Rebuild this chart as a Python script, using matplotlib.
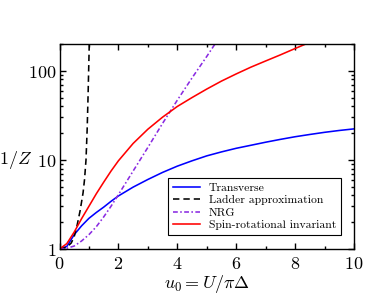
import matplotlib
matplotlib.use("Agg")
import matplotlib.pyplot as plt
from matplotlib.ticker import FixedLocator, FixedFormatter, MultipleLocator, LogLocator, NullFormatter

plt.rcParams['mathtext.fontset'] = 'cm'
plt.rcParams['font.family'] = ['DejaVu Serif']

# Transverse
u_tr = [0, 0.25, 0.5, 0.75, 1.0, 1.25, 1.5, 1.75, 2.0, 2.5, 3.0, 3.5, 4.0, 4.5, 5.0,
        5.5, 6.0, 6.5, 7.0, 7.5, 8.0, 8.5, 9.0, 9.5, 10.0]
z_tr = [1, 1.07, 1.45, 1.82, 2.21, 2.57, 2.95, 3.43, 3.94, 4.95, 6.03, 7.24, 8.51, 9.77, 11.1,
        12.3, 13.5, 14.6, 15.8, 17.0, 18.2, 19.3, 20.4, 21.4, 22.3]

# Ladder approximation
u_la = [0, 0.25, 0.4, 0.5, 0.6, 0.7, 0.8, 0.85, 0.9, 0.94, 0.97, 1.0, 1.02]
z_la = [1, 1.05, 1.17, 1.38, 1.86, 2.69, 4.27, 6.03, 10, 22.4, 52.5, 141, 282]

# NRG
u_nrg = [0, 0.25, 0.5, 0.75, 1.0, 1.25, 1.5, 1.75, 2.0, 2.5, 3.0, 3.5, 4.0, 4.5, 5.0, 5.5]
z_nrg = [1, 1.02, 1.08, 1.23, 1.45, 1.78, 2.29, 3.02, 4.07, 7.5, 13.8, 25.7, 46.8, 83.2, 145, 257]

# Spin-rotational invariant
u_sr = [0, 0.25, 0.5, 0.75, 1.0, 1.25, 1.5, 1.75, 2.0, 2.5, 3.0, 3.5, 4.0, 4.5, 5.0,
        5.5, 6.0, 6.5, 7.0, 7.5, 8.0, 8.5, 9.0, 10.0]
z_sr = [1, 1.15, 1.55, 2.19, 3.02, 4.17, 5.62, 7.5, 9.77, 15.3, 22.1, 30.2, 39.8, 50.1, 62.4,
        76.7, 92.3, 110, 129, 151, 178, 209, 243, 316]

labels = ['Transverse', 'Ladder approximation', 'NRG', 'Spin-rotational invariant']

fig = plt.figure(figsize=(3.82, 2.95), dpi=100)
ax = fig.add_axes([59.5/382, 1-249/295, (354-59.5)/382, (249-44)/295])

lw = 1.15
ax.plot(u_tr, z_tr, color='#0000ff', lw=lw, label=labels[0])
ax.plot(u_la, z_la, color='black', lw=lw, dashes=(4, 2.5), label=labels[1])
ax.plot(u_nrg, z_nrg, color='#8a2be2', lw=lw, dashes=(3, 1.5, 1, 1.5), label=labels[2])
ax.plot(u_sr, z_sr, color='red', lw=lw, label=labels[3])

ax.set_yscale('log')
ax.set_xlim(0, 10)
ax.set_ylim(1, 200)

ax.xaxis.set_major_locator(FixedLocator([0, 2, 4, 6, 8, 10]))
ax.xaxis.set_major_formatter(FixedFormatter([r'$%d$' % v for v in [0, 2, 4, 6, 8, 10]]))
ax.xaxis.set_minor_locator(MultipleLocator(1))
ax.yaxis.set_major_locator(FixedLocator([1, 10, 100]))
ax.yaxis.set_major_formatter(FixedFormatter([r'$1$', r'$10$', r'$100$']))
ax.yaxis.set_minor_locator(LogLocator(base=10, subs=range(2, 10)))
ax.yaxis.set_minor_formatter(NullFormatter())

ax.tick_params(which='both', direction='in', top=True, right=True, width=1.0)
ax.tick_params(which='major', length=4.5, labelsize=13)
ax.tick_params(axis='x', which='major', pad=4)
ax.tick_params(axis='y', which='major', pad=2)
ax.tick_params(which='minor', length=2.5)
for s in ax.spines.values():
    s.set_linewidth(1.0)

ax.set_xlabel(r'$u_0 = U/\pi\Delta$', fontsize=13, labelpad=0.5)
ax.set_ylabel(r'$1/Z$', fontsize=13, rotation=0, ha='center', va='center')
ax.yaxis.set_label_coords(-0.149, 0.434)

leg = ax.legend(loc='lower right', bbox_to_anchor=(0.956, 0.068), borderaxespad=0,
                fancybox=False, edgecolor='black', framealpha=1,
                handlelength=2.3, labelspacing=0.2, borderpad=0.4, handletextpad=0.8,
                prop={'family': 'cmr10', 'size': 8.4})
leg.get_frame().set_linewidth(0.8)

fig.savefig('out.png', dpi=100)
